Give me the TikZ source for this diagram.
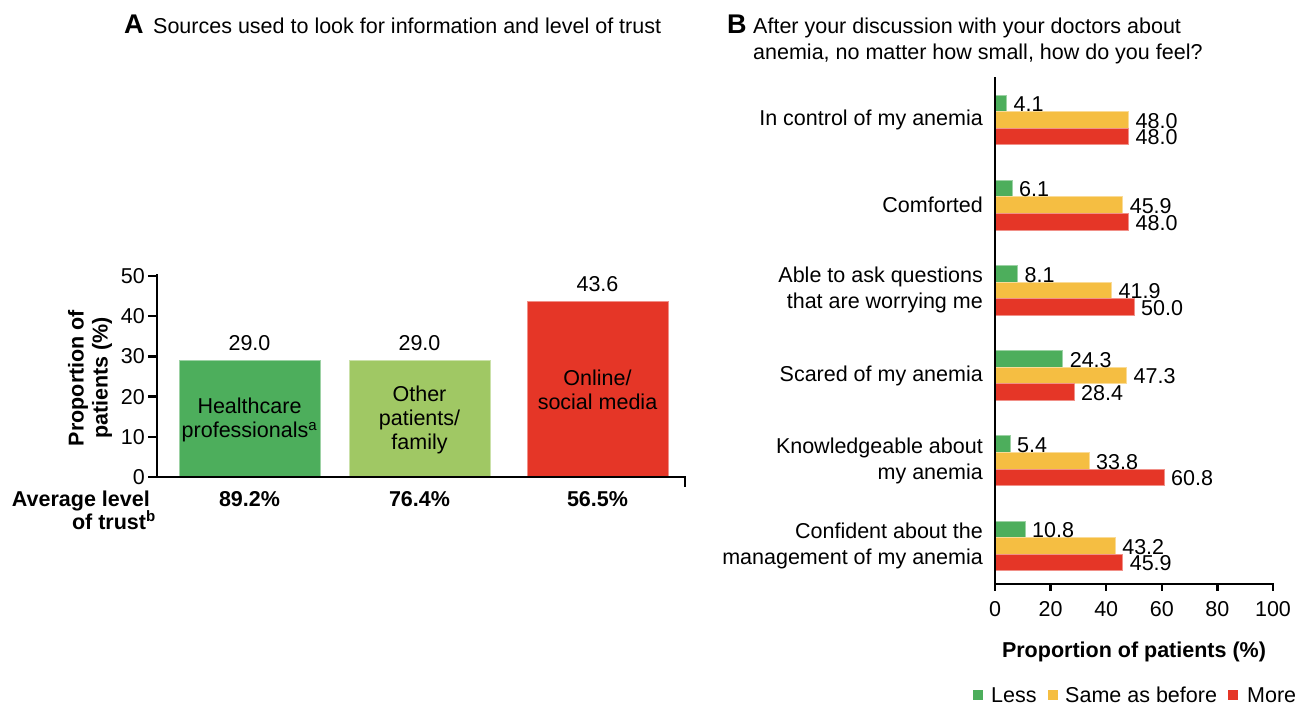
\documentclass[tikz,border=0pt]{standalone}
\usepackage{fontspec}
\setmainfont{Liberation Sans}
\usepackage{tikz}
\definecolor{lessgreen}{RGB}{77,174,92}
\definecolor{othergreen}{RGB}{160,200,100}
\definecolor{samegold}{RGB}{245,190,66}
\definecolor{morered}{RGB}{229,54,39}
\tikzstyle{txt} = [inner sep=0pt, font=\fontsize{21.5}{24}\selectfont]
\tikzstyle{boldtxt} = [inner sep=0pt, font=\fontsize{21.5}{24}\selectfont\bfseries]
\tikzstyle{panelletter} = [inner sep=0pt, font=\fontsize{27}{30}\selectfont\bfseries]
\tikzstyle{axisline} = [line width=2.4pt]
\tikzstyle{lessbar} = [fill=lessgreen, draw=lessgreen!55!white, line width=0.8pt]
\tikzstyle{otherbar} = [fill=othergreen, draw=othergreen!55!white, line width=0.8pt]
\tikzstyle{samebar} = [fill=samegold, draw=samegold!55!white, line width=0.8pt]
\tikzstyle{morebar} = [fill=morered, draw=morered!55!white, line width=0.8pt]

\begin{document}
\begin{tikzpicture}[yscale=-1]
			\useasboundingbox[fill=white] (0pt,0pt) rectangle (1297pt,704pt);
			\node[panelletter,anchor=base west] (letterA) at (124pt,33pt) {A};
			\node[txt,anchor=base west] (titleA) at (153pt,33pt) {Sources used to look for information and level of trust};
			\draw[lessbar] (179pt,360.4pt) rectangle (320pt,477pt);
			\draw[otherbar] (349pt,360.4pt) rectangle (490pt,477pt);
			\draw[morebar] (527pt,301.7pt) rectangle (668pt,477pt);
			\draw[axisline] (157pt,274pt) -- (157pt,477pt) -- (685pt,477pt) -- (685pt,487pt);
			\draw[axisline] (148pt,477pt) -- (157pt,477pt);
			\draw[axisline] (148pt,436.8pt) -- (157pt,436.8pt);
			\draw[axisline] (148pt,396.6pt) -- (157pt,396.6pt);
			\draw[axisline] (148pt,356.4pt) -- (157pt,356.4pt);
			\draw[axisline] (148pt,316.2pt) -- (157pt,316.2pt);
			\draw[axisline] (148pt,276pt) -- (157pt,276pt);
			\node[txt,anchor=east] (ytickA0) at (145pt,477pt) {0};
			\node[txt,anchor=east] (ytickA10) at (145pt,436.8pt) {10};
			\node[txt,anchor=east] (ytickA20) at (145pt,396.6pt) {20};
			\node[txt,anchor=east] (ytickA30) at (145pt,356.4pt) {30};
			\node[txt,anchor=east] (ytickA40) at (145pt,316.2pt) {40};
			\node[txt,anchor=east] (ytickA50) at (145pt,276pt) {50};
			\node[boldtxt,align=center,rotate=90] (ylabelA) at (90pt,378pt) {Proportion of\\patients (\%)};
			\node[txt,anchor=base] (valhcp) at (249.5pt,350.5pt) {29.0};
			\node[txt,anchor=base] (valother) at (419.5pt,350.5pt) {29.0};
			\node[txt,anchor=base] (valonline) at (597.5pt,291.7pt) {43.6};
			\node[txt,align=center] (namehcp) at (249.5pt,420pt) {Healthcare\\professionals\textsuperscript{a}};
			\node[txt,align=center] (nameother) at (419.5pt,420pt) {Other\\patients/\\family};
			\node[txt,align=center] (nameonline) at (597.5pt,390pt) {Online/\\social media};
			\node[boldtxt,anchor=base east] (trustA) at (150pt,506pt) {Average level};
			\node[boldtxt,anchor=base east] (trustB) at (156pt,529pt) {of trust\textsuperscript{b}};
			\node[boldtxt,anchor=base] (trusthcp) at (249.5pt,506pt) {89.2\%};
			\node[boldtxt,anchor=base] (trustother) at (419.5pt,506pt) {76.4\%};
			\node[boldtxt,anchor=base] (trustonline) at (597.5pt,506pt) {56.5\%};
			\node[panelletter,anchor=base west] (letterB) at (727pt,33pt) {B};
			\node[txt,align=left,anchor=north west,font=\fontsize{21.5}{26}\selectfont] (titleB) at (753pt,17.5pt) {After your discussion with your doctors about\\anemia, no matter how small, how do you feel?};
			\draw[lessbar] (995pt,95pt) rectangle (1006.4pt,111.6pt);
			\draw[samebar] (995pt,111.6pt) rectangle (1128.4pt,128.2pt);
			\draw[morebar] (995pt,128.2pt) rectangle (1128.4pt,144.8pt);
			\draw[lessbar] (995pt,180.2pt) rectangle (1012pt,196.8pt);
			\draw[samebar] (995pt,196.8pt) rectangle (1122.6pt,213.4pt);
			\draw[morebar] (995pt,213.4pt) rectangle (1128.4pt,230pt);
			\draw[lessbar] (995pt,265.4pt) rectangle (1017.5pt,282pt);
			\draw[samebar] (995pt,282pt) rectangle (1111.5pt,298.6pt);
			\draw[morebar] (995pt,298.6pt) rectangle (1134pt,315.2pt);
			\draw[lessbar] (995pt,350.6pt) rectangle (1062.6pt,367.2pt);
			\draw[samebar] (995pt,367.2pt) rectangle (1126.5pt,383.8pt);
			\draw[morebar] (995pt,383.8pt) rectangle (1074pt,400.4pt);
			\draw[lessbar] (995pt,435.8pt) rectangle (1010pt,452.4pt);
			\draw[samebar] (995pt,452.4pt) rectangle (1089pt,469pt);
			\draw[morebar] (995pt,469pt) rectangle (1164pt,485.6pt);
			\draw[lessbar] (995pt,521pt) rectangle (1025pt,537.6pt);
			\draw[samebar] (995pt,537.6pt) rectangle (1115.1pt,554.2pt);
			\draw[morebar] (995pt,554.2pt) rectangle (1122.6pt,570.8pt);
			\node[txt,anchor=base west] (vcontrolless) at (1013.4pt,111.6pt) {4.1};
			\node[txt,anchor=base west] (vcontrolsame) at (1135.4pt,128.2pt) {48.0};
			\node[txt,anchor=base west] (vcontrolmore) at (1135.4pt,144.8pt) {48.0};
			\node[txt,anchor=base west] (vcomfortless) at (1019pt,196.8pt) {6.1};
			\node[txt,anchor=base west] (vcomfortsame) at (1129.6pt,213.4pt) {45.9};
			\node[txt,anchor=base west] (vcomfortmore) at (1135.4pt,230pt) {48.0};
			\node[txt,anchor=base west] (vaskless) at (1024.5pt,282pt) {8.1};
			\node[txt,anchor=base west] (vasksame) at (1118.5pt,298.6pt) {41.9};
			\node[txt,anchor=base west] (vaskmore) at (1141pt,315.2pt) {50.0};
			\node[txt,anchor=base west] (vscaredless) at (1069.6pt,367.2pt) {24.3};
			\node[txt,anchor=base west] (vscaredsame) at (1133.5pt,383.8pt) {47.3};
			\node[txt,anchor=base west] (vscaredmore) at (1081pt,400.4pt) {28.4};
			\node[txt,anchor=base west] (vknowless) at (1017pt,452.4pt) {5.4};
			\node[txt,anchor=base west] (vknowsame) at (1096pt,469pt) {33.8};
			\node[txt,anchor=base west] (vknowmore) at (1171pt,485.6pt) {60.8};
			\node[txt,anchor=base west] (vconfless) at (1032pt,537.6pt) {10.8};
			\node[txt,anchor=base west] (vconfsame) at (1122.1pt,554.2pt) {43.2};
			\node[txt,anchor=base west] (vconfmore) at (1129.6pt,570.8pt) {45.9};
			\node[txt,anchor=east,align=right] (gcontrol) at (983pt,119.9pt) {In control of my anemia};
			\node[txt,anchor=east,align=right] (gcomfort) at (983pt,205.1pt) {Comforted};
			\node[txt,anchor=east,align=right,font=\fontsize{21.5}{26}\selectfont] (gask) at (983pt,290.3pt) {Able to ask questions\\that are worrying me};
			\node[txt,anchor=east,align=right] (gscared) at (983pt,375.5pt) {Scared of my anemia};
			\node[txt,anchor=east,align=right,font=\fontsize{21.5}{26}\selectfont] (gknow) at (983pt,460.7pt) {Knowledgeable about\\my anemia};
			\node[txt,anchor=east,align=right,font=\fontsize{21.5}{26}\selectfont] (gconf) at (983pt,545.9pt) {Confident about the\\management of my anemia};
			\draw[axisline] (995pt,77pt) -- (995pt,584pt) -- (1273pt,584pt) -- (1273pt,591pt);
			\draw[axisline] (995pt,584pt) -- (995pt,591pt);
			\draw[axisline] (1050.6pt,584pt) -- (1050.6pt,591pt);
			\draw[axisline] (1106.2pt,584pt) -- (1106.2pt,591pt);
			\draw[axisline] (1161.8pt,584pt) -- (1161.8pt,591pt);
			\draw[axisline] (1217.4pt,584pt) -- (1217.4pt,591pt);
			\node[txt,anchor=base] (xtickB0) at (995pt,616pt) {0};
			\node[txt,anchor=base] (xtickB20) at (1050.6pt,616pt) {20};
			\node[txt,anchor=base] (xtickB40) at (1106.2pt,616pt) {40};
			\node[txt,anchor=base] (xtickB60) at (1161.8pt,616pt) {60};
			\node[txt,anchor=base] (xtickB80) at (1217.4pt,616pt) {80};
			\node[txt,anchor=base] (xtickB100) at (1273pt,616pt) {100};
			\node[boldtxt,anchor=base] (xlabelB) at (1134pt,657pt) {Proportion of patients (\%)};
			\fill[lessgreen] (973pt,690pt) rectangle (983pt,700pt);
			\node[txt,anchor=base west] (keyless) at (991pt,702pt) {Less};
			\fill[samegold] (1048pt,690pt) rectangle (1058pt,700pt);
			\node[txt,anchor=base west] (keysame) at (1065pt,702pt) {Same as before};
			\fill[morered] (1228pt,690pt) rectangle (1238pt,700pt);
			\node[txt,anchor=base west] (keymore) at (1247pt,702pt) {More};
		\end{tikzpicture}
\end{document}
